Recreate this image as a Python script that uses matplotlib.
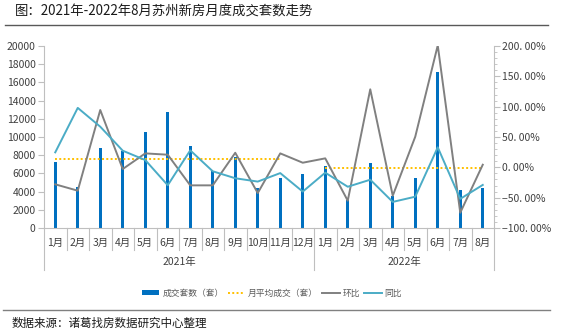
import numpy as np
import matplotlib
matplotlib.use("Agg")
import matplotlib.pyplot as plt
import matplotlib.transforms as mtransforms
from matplotlib.patches import Patch
from matplotlib.lines import Line2D

plt.rcParams['font.family'] = ['Noto Sans CJK SC', 'DejaVu Sans']

months = ['1月', '2月', '3月', '4月', '5月', '6月', '7月', '8月', '9月', '10月', '11月', '12月',
          '1月', '2月', '3月', '4月', '5月', '6月', '7月', '8月']
years = ['2021年', '2022年']
year_spans = [(0, 12), (12, 20)]

deals = [7250, 4470, 8800, 8500, 10550, 12700, 9000, 6300, 7850, 4350, 5450, 5950,
         6800, 3100, 7150, 3550, 5500, 17150, 4180, 4400]
avg_2021 = [7620, 7620, 7620, 7620, 7620, 7620, 7620, 7620, 7620, 7620, 7620, np.nan,
            np.nan, np.nan, np.nan, np.nan, np.nan, np.nan, np.nan, np.nan]
avg_2022 = [np.nan] * 12 + [6630, 6630, 6630, 6630, 6630, 6630, 6630, 6630]
mom = [-28, -38.5, 94.5, -2.8, 23, 20.8, -29.7, -29.7, 24, -42.4, 23, 7.6,
       14.8, -55, 128.6, -46.8, 50.5, 201, -74.8, 4.3]
yoy = [24.7, 98, 67, 27.4, 12, -29.5, 28, -6.5, -18, -23.5, -9.5, -40,
       -8.8, -32, -20.4, -57, -48.4, 33, -52, -29]

left_ticks = [0, 2000, 4000, 6000, 8000, 10000, 12000, 14000, 16000, 18000, 20000]
right_ticks = [-100, -50, 0, 50, 100, 150, 200]
right_labels = ['−100. 00%', '−50. 00%', '0. 00%', '50. 00%', '100. 00%', '150. 00%', '200. 00%']

W, H = 564, 336
fig = plt.figure(figsize=(W / 100, H / 100), dpi=100)
ax = fig.add_axes([44 / W, (H - 228) / H, (494 - 44) / W, (228 - 46) / H])
ax2 = ax.twinx()

x = np.arange(len(months))
ax.bar(x, deals, width=0.15, color='#0070C0', zorder=2)
ax.plot(x, avg_2021, color='#FFC000', lw=1.4, linestyle=(0, (1, 1.2)), zorder=3)
ax.plot(x, avg_2022, color='#FFC000', lw=1.4, linestyle=(0, (1, 1.2)), zorder=3)
ax2.plot(x, mom, color='#808080', lw=1.4, zorder=3)
ax2.plot(x, yoy, color='#4BACC6', lw=1.4, zorder=3)

ax.set_xlim(-0.5, len(months) - 0.5)
ax.set_ylim(0, 20000)
ax2.set_ylim(-100, 200)

ax.set_yticks(left_ticks)
ax.set_yticklabels([str(v) for v in left_ticks])
ax2.set_yticks(right_ticks)
ax2.set_yticklabels(right_labels)
ax2.set_yticks(np.arange(-100, 201, 10), minor=True)

gray = '#BFBFBF'
for a in (ax, ax2):
    a.spines['top'].set_visible(False)
    for s in ('left', 'right', 'bottom'):
        a.spines[s].set_color(gray)
        a.spines[s].set_linewidth(0.8)
ax.spines['right'].set_visible(False)
ax2.spines['left'].set_visible(False)
ax2.spines['bottom'].set_visible(False)

ax.tick_params(axis='y', labelsize=7.5, colors='#404040', length=4, width=0.8, color=gray, pad=2)
ax2.tick_params(axis='y', which='major', labelsize=7.5, colors='#404040', length=4, width=0.8, color=gray, pad=2)
ax2.tick_params(axis='y', which='minor', length=2.5, width=0.6, color=gray)
for t in ax.get_yticklabels() + ax2.get_yticklabels():
    t.set_color('#404040')

# x-axis: category separators and labels
ax.set_xticks([])
trans = mtransforms.blended_transform_factory(ax.transData, ax.transAxes)
for b in np.arange(-0.5, len(months), 1.0):
    long_line = b in (-0.5, 11.5, len(months) - 0.5)
    ax.plot([b, b], [0, -0.233 if long_line else -0.121], transform=trans, color=gray,
            lw=0.8, clip_on=False)
for i, m in enumerate(months):
    ax.text(i, -0.082, m, transform=trans, ha='center', va='center', fontsize=7.5, color='#404040')
for (s, e), yl in zip(year_spans, years):
    ax.text((s + e - 1) / 2, -0.187, yl, transform=trans, ha='center', va='center',
            fontsize=7.5, color='#404040')

# title and lines
fig.text(15 / W, 1 - 12 / H, '图：2021年-2022年8月苏州新房月度成交套数走势', ha='left', va='center',
         fontsize=9.6, color='#1a1a1a')
fig.add_artist(Line2D([5 / W, 548 / W], [1 - 25 / H, 1 - 25 / H], color='#595959', lw=1.0))
fig.add_artist(Line2D([3 / W, 550 / W], [1 - 310 / H, 1 - 310 / H], color='#808080', lw=1.0))
fig.text(12 / W, 1 - 323 / H, '数据来源：诸葛找房数据研究中心整理', ha='left', va='center',
         fontsize=8.3, color='#1a1a1a')

handles = [Patch(facecolor='#0070C0', edgecolor='none'),
           Line2D([], [], color='#FFC000', lw=1.4, linestyle=(0, (1, 1.2))),
           Line2D([], [], color='#808080', lw=1.4),
           Line2D([], [], color='#4BACC6', lw=1.4)]
labels = ['成交套数（套）', '月平均成交（套）', '环比', '同比']
leg = fig.legend(handles, labels, loc='center', bbox_to_anchor=(272 / W, 1 - 293 / H), ncol=4,
                 frameon=False, fontsize=6.3, handlelength=2.0, handleheight=0.5,
                 handletextpad=0.35, columnspacing=0.45, labelcolor='#595959')

fig.savefig('out.png', dpi=100)
